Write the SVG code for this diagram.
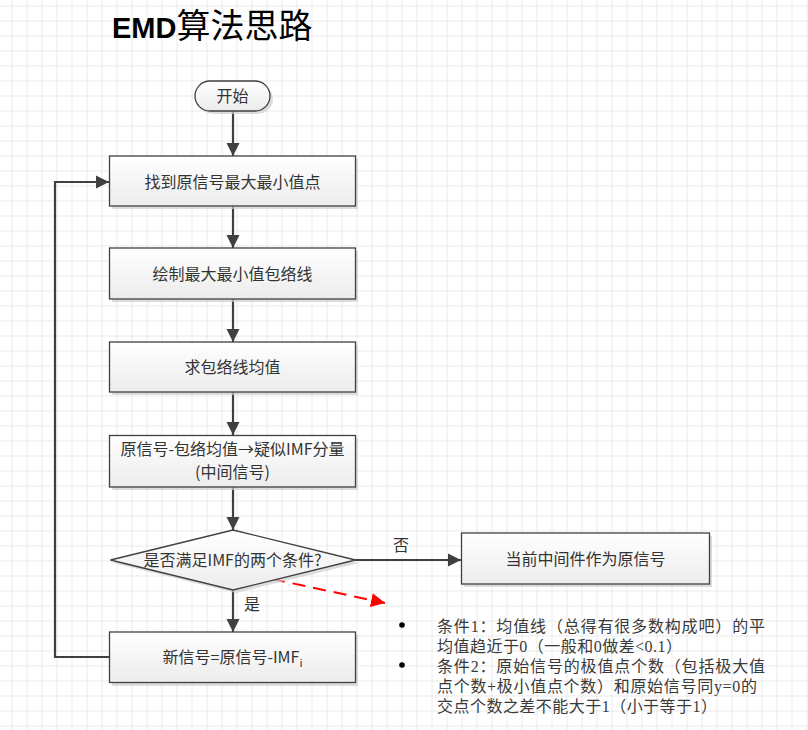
<svg xmlns="http://www.w3.org/2000/svg" width="808" height="730" viewBox="0 0 808 730">
<defs>
<pattern id="grid" x="11.5" y="5.5" width="15" height="15" patternUnits="userSpaceOnUse">
<path d="M0 0H15M0 0V15" fill="none" stroke="#d6d6d6" stroke-width="1"/>
</pattern>
<linearGradient id="fill" x1="0" y1="0" x2="0" y2="1">
<stop offset="0" stop-color="#ffffff"/>
<stop offset="1" stop-color="#ececec"/>
</linearGradient>
<marker id="arr" viewBox="0 0 10 10" refX="10" refY="5" markerWidth="6" markerHeight="6" orient="auto" markerUnits="strokeWidth">
<path d="M0 0L10 5L0 10z" fill="#404040"/>
</marker>
<marker id="arrR" viewBox="0 0 10 10" refX="10" refY="5" markerWidth="7" markerHeight="7" orient="auto" markerUnits="strokeWidth">
<path d="M0 0L10 5L0 10z" fill="#ff0000"/>
</marker>
</defs>
<style>
.node{fill:url(#fill);stroke:#404040;stroke-width:1.3}
.sh{fill:#cfcfcf;opacity:0.7}
.t{font-family:"Microsoft YaHei","Noto Sans CJK SC",sans-serif;font-size:16px;fill:#333;text-anchor:middle}
.c{fill:none;stroke:#404040;stroke-width:2.2;marker-end:url(#arr)}
.n{font-family:"Liberation Serif","Noto Sans CJK SC",serif;font-size:16px;fill:#3a3a3a}
</style>
<rect width="808" height="730" fill="#fff"/>
<rect width="808" height="730" fill="url(#grid)"/>
<text x="112" y="38" font-family="'Liberation Sans','Noto Sans CJK SC',sans-serif" font-weight="bold" font-size="29" fill="#000">EMD<tspan font-family="'Noto Sans CJK SC',sans-serif" font-weight="normal" font-size="34">算法思路</tspan></text>

<g id="connectors">
<path class="c" d="M233 111V156"/>
<path class="c" d="M233 206V248"/>
<path class="c" d="M233 299V342"/>
<path class="c" d="M233 392V435"/>
<path class="c" d="M233 487V530"/>
<path class="c" d="M233 590V632"/>
<path class="c" d="M355 560H461"/>
<path class="c" d="M109 657H55V182H109"/>
<path d="M272 579L385 603" fill="none" stroke="#ff0000" stroke-width="2" stroke-dasharray="13 8" marker-end="url(#arrR)"/>
<text x="401" y="551" class="t">否</text>
<text x="252" y="610" class="t">是</text>
</g>

<g id="start">
<rect class="sh" x="198" y="84" width="75" height="30" rx="15"/>
<rect class="node" x="195" y="81" width="75" height="30" rx="15"/>
<text x="232.5" y="102" class="t">开始</text>
</g>
<g id="n1">
<rect class="sh" x="112" y="159" width="246" height="50"/>
<rect class="node" x="109.5" y="156" width="246" height="50"/>
<text x="232.5" y="187.5" class="t">找到原信号最大最小值点</text>
</g>
<g id="n2">
<rect class="sh" x="112" y="251" width="246" height="51"/>
<rect class="node" x="109.5" y="248" width="246" height="51"/>
<text x="232.5" y="279.5" class="t">绘制最大最小值包络线</text>
</g>
<g id="n3">
<rect class="sh" x="112" y="345" width="246" height="50"/>
<rect class="node" x="109.5" y="342" width="246" height="50"/>
<text x="232.5" y="373" class="t">求包络线均值</text>
</g>
<g id="n4">
<rect class="sh" x="112" y="438" width="246" height="52"/>
<rect class="node" x="109.5" y="435.5" width="246" height="51.5"/>
<text x="232.5" y="455" class="t">原信号-包络均值→疑似IMF分量</text>
<text x="232.5" y="478" class="t">(中间信号)</text>
</g>
<g id="decision">
<path class="sh" d="M236 533L359 563L236 593L113 563Z"/>
<path class="node" d="M233 530L355.5 560L233 590L110.5 560Z"/>
<text x="232.5" y="566" class="t">是否满足IMF的两个条件?</text>
</g>
<g id="n6">
<rect class="sh" x="464" y="536" width="248" height="51"/>
<rect class="node" x="461.5" y="533" width="248" height="51"/>
<text x="585.5" y="564.5" class="t">当前中间件作为原信号</text>
</g>
<g id="n5">
<rect class="sh" x="112" y="635" width="246" height="51"/>
<rect class="node" x="109.5" y="632" width="246" height="50.5"/>
<text x="232.5" y="662.5" class="t">新信号=原信号-IMF<tspan font-size="11" dy="4">i</tspan></text>
</g>

<g id="notes">
<circle cx="402" cy="625" r="2.8" fill="#000"/>
<circle cx="402" cy="665" r="2.8" fill="#000"/>
<text x="437" y="632" class="n" textLength="328" lengthAdjust="spacing">条件1：均值线（总得有很多数构成吧）的平</text>
<text x="437" y="652" class="n" textLength="245" lengthAdjust="spacing">均值趋近于0（一般和0做差&lt;0.1）</text>
<text x="437" y="672" class="n" textLength="328" lengthAdjust="spacing">条件2：原始信号的极值点个数（包括极大值</text>
<text x="437" y="692" class="n" textLength="320" lengthAdjust="spacing">点个数+极小值点个数）和原始信号同y=0的</text>
<text x="437" y="712" class="n" textLength="280" lengthAdjust="spacing">交点个数之差不能大于1（小于等于1）</text>
</g>
</svg>
